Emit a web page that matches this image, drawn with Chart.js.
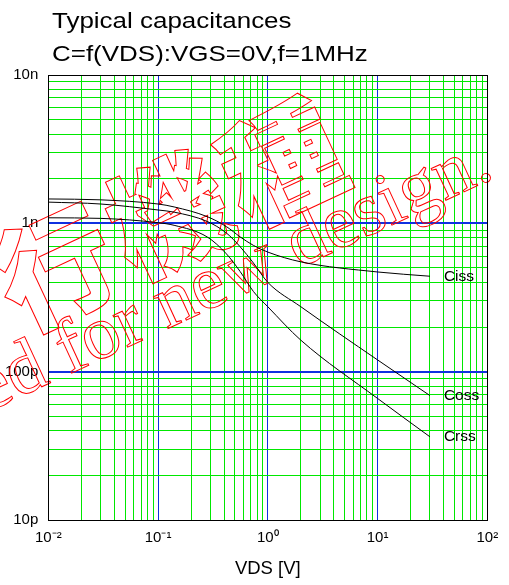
<!DOCTYPE html>
<html>
<head>
<meta charset="utf-8">
<script src="https://cdn.jsdelivr.net/npm/chart.js@4.4.1/dist/chart.umd.min.js"></script>
<style>
  html, body { margin: 0; padding: 0; background: #fff; }
  #cap { display: block; }
</style>
</head>
<body>
<canvas id="cap" width="509" height="585"></canvas>
<script>
// Typical capacitances, C = f(VDS), log-log

const vds  = [0.01, 0.03, 0.1, 0.14, 0.28, 0.42, 0.56, 0.74, 1, 2, 10, 30]; // V
const ciss = [1460, 1440, 1350, 1290, 1110, 950, 810, 710, 640, 550, 470, 440]; // pF
const coss = [1390, 1350, 1230, 1190, 1030, 860, 695, 540, 400, 274, 120, 69];
const crss = [1090, 1080, 1010, 970, 810, 622, 473, 347, 274, 163, 66, 36.4];
const seriesNames = ['Ciss', 'Coss', 'Crss'];

const xDecades = [0.01, 0.1, 1, 10, 100];
const xTickLabels = ['10\u207B\u00B2', '10\u207B\u00B9', '10\u2070', '10\u00B9', '10\u00B2'];
const yDecades = [10, 100, 1000, 10000];
const yTickLabels = ['10p', '100p', '1n', '10n'];
const mantissas = [1, 2, 3, 4, 5, 6, 7, 8, 9];

const GREEN = '#00e800';
const BLUE = '#1030e0';
const SQUASH = 1.18; // title text in the source is stretched sideways

// all grid positions: 1..9 per decade, plus the last decade
function gridValues(decades) {
  const out = [];
  decades.slice(0, -1).forEach(d => mantissas.forEach(m => out.push(+(d * m).toPrecision(6))));
  out.push(decades[decades.length - 1]);
  return out;
}
const isDecade = v => Math.abs(Math.log10(v) - Math.round(Math.log10(v))) < 1e-6;
const gridColor = ctx => {
  const n = ctx.scale.ticks.length;
  if (ctx.index === 0 || ctx.index === n - 1) return 'rgba(0,0,0,0)';
  return isDecade(ctx.tick.value) ? BLUE : GREEN;
};

const pts = ys => vds.map((v, i) => ({ x: v, y: ys[i] }));

const titlePlugin = {
  id: 'titleLines',
  afterDraw(chart) {
    const c = chart.ctx;
    c.save();
    c.fillStyle = '#000';
    c.font = '22px "Liberation Sans", Arial, sans-serif';
    c.textBaseline = 'alphabetic';
    c.translate(52, 0);
    c.scale(SQUASH, 1);
    c.fillText('Typical capacitances', 0, 27.5);
    c.fillText('C=f(VDS):VGS=0V,f=1MHz', 0, 61);
    c.restore();
  }
};

const watermark = {
  id: 'watermark',
  beforeDatasetsDraw(chart) {
    const c = chart.ctx;
    c.save();
    c.strokeStyle = '#ff0000';
    c.lineWidth = 1;
    // english line
    c.save();
    c.translate(496, 177);
    c.rotate(-24.8 * Math.PI / 180);
    c.font = '76px "Liberation Serif", "Times New Roman", serif';
    c.textAlign = 'right';
    c.textBaseline = 'alphabetic';
    c.strokeText('Not recommended for new design.', 0, 0);
    c.restore();
    // japanese line
    const chars = ['移', '行', '機', '種'];
    chars.forEach((ch, i) => {
      c.save();
      c.translate(-58 + i * 113, 321 - i * 53);
      c.rotate(-25 * Math.PI / 180);
      c.font = '900 118px "Noto Sans CJK JP", sans-serif';
      c.textAlign = 'center';
      c.textBaseline = 'middle';
      c.strokeText(ch, 0, 0);
      c.restore();
    });
    c.restore();
  }
};

const frameAndNames = {
  id: 'frameAndNames',
  afterDatasetsDraw(chart) {
    const c = chart.ctx;
    const a = chart.chartArea;
    c.save();
    c.strokeStyle = '#000';
    c.lineWidth = 1;
    c.strokeRect(Math.round(a.left) + 0.5, Math.round(a.top) + 0.5,
      Math.round(a.right - a.left), Math.round(a.bottom - a.top));
    c.fillStyle = '#000';
    c.font = '15.5px "Liberation Sans", Arial, sans-serif';
    c.textBaseline = 'middle';
    chart.data.datasets.forEach((ds, i) => {
      const els = chart.getDatasetMeta(i).data;
      const last = els[els.length - 1];
      c.fillText(ds.label, last.x + 14, last.y);
    });
    c.restore();
  }
};

const line = (label, ys) => ({
  label: label,
  data: pts(ys),
  showLine: true,
  borderColor: '#000',
  borderWidth: 1,
  pointRadius: 0,
  cubicInterpolationMode: 'monotone',
  fill: false
});

new Chart(document.getElementById('cap').getContext('2d'), {
  type: 'scatter',
  data: {
    datasets: [line(seriesNames[0], ciss), line(seriesNames[1], coss), line(seriesNames[2], crss)]
  },
  options: {
    responsive: false,
    animation: false,
    layout: { padding: { top: 75, right: 21.7, left: 0, bottom: 0 } },
    plugins: {
      legend: { display: false },
      tooltip: { enabled: false },
      title: { display: false }
    },
    scales: {
      x: {
        type: 'logarithmic',
        min: xDecades[0],
        max: xDecades[xDecades.length - 1],
        afterBuildTicks: s => { s.ticks = gridValues(xDecades).map(v => ({ value: v })); },
        afterFit: s => { s.height = 65; },
        border: { display: false },
        grid: { drawTicks: false, color: gridColor, lineWidth: 1 },
        ticks: {
          autoSkip: false,
          maxRotation: 0,
          padding: 9,
          color: '#000',
          font: { family: '"Liberation Sans", Arial, sans-serif', size: 15 },
          callback: v => {
            const k = xDecades.findIndex(d => Math.abs(d - v) / d < 1e-6);
            return k >= 0 ? xTickLabels[k] : '';
          }
        },
        title: {
          display: true,
          text: 'VDS [V]',
          color: '#000',
          font: { family: '"Liberation Sans", Arial, sans-serif', size: 18.5 },
          padding: { top: 0, bottom: 5 }
        }
      },
      y: {
        type: 'logarithmic',
        min: yDecades[0],
        max: yDecades[yDecades.length - 1],
        afterBuildTicks: s => { s.ticks = gridValues(yDecades).map(v => ({ value: v })); },
        afterFit: s => { s.width = 48.3; },
        border: { display: false },
        grid: {
          drawTicks: false,
          color: gridColor,
          lineWidth: ctx => isDecade(ctx.tick.value) ? 2 : 1
        },
        ticks: {
          autoSkip: false,
          padding: 10,
          color: '#000',
          font: { family: '"Liberation Sans", Arial, sans-serif', size: 15 },
          callback: v => {
            const k = yDecades.findIndex(d => Math.abs(d - v) / d < 1e-6);
            return k >= 0 ? yTickLabels[k] : '';
          }
        }
      }
    }
  },
  plugins: [titlePlugin, watermark, frameAndNames]
});
</script>
</body>
</html>
